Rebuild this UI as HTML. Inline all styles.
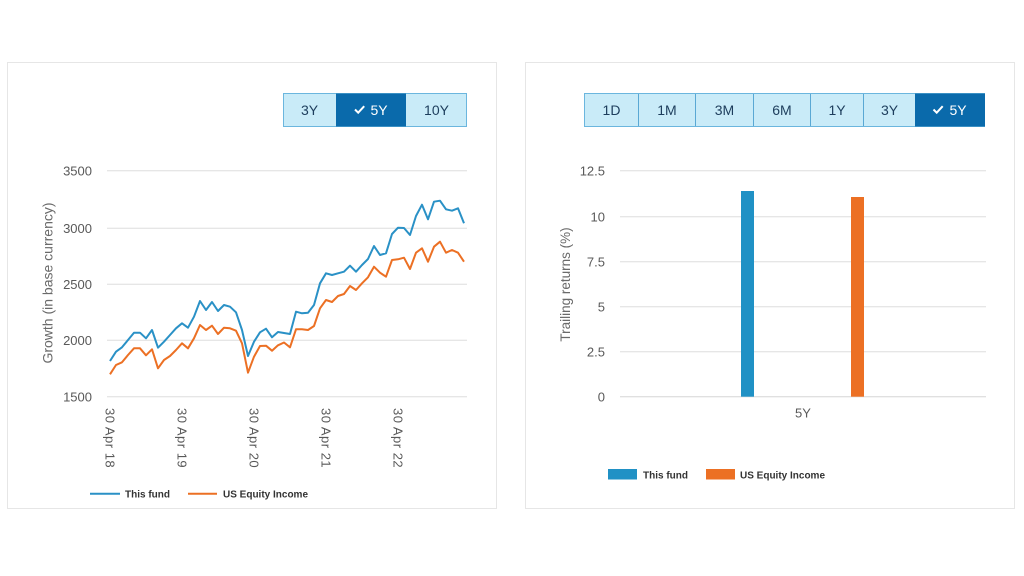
<!DOCTYPE html>
<html><head><meta charset="utf-8"><style>
html,body{margin:0;padding:0;background:#fff;}
svg{display:block;}
text{font-family:"Liberation Sans",sans-serif;}
</style></head><body>
<svg width="1024" height="576" viewBox="0 0 1024 576" xmlns="http://www.w3.org/2000/svg">
<rect width="1024" height="576" fill="#fff"/>
<!-- panels -->
<rect x="7.5" y="62.5" width="489" height="446" fill="#fff" stroke="#e6e6e6" stroke-width="1"/>
<rect x="525.5" y="62.5" width="489" height="446" fill="#fff" stroke="#e6e6e6" stroke-width="1"/>

<!-- left buttons -->
<g font-size="14" text-anchor="middle">
<rect x="283.5" y="93.5" width="183" height="33" fill="#c9ebf8" stroke="#6bb6de"/>
<rect x="336" y="93.5" width="70" height="33" fill="#0a6aab"/>
<text x="309.5" y="115" fill="#1d3d5c">3Y</text>
<text x="379" y="115" fill="#fff">5Y</text>
<path d="M355 109.5 l3.2 3.2 l6 -6.5" fill="none" stroke="#fff" stroke-width="2"/>
<text x="436.5" y="115" fill="#1d3d5c">10Y</text>
</g>

<!-- right buttons -->
<g font-size="14" text-anchor="middle">
<rect x="584.5" y="93.5" width="400" height="33" fill="#c9ebf8" stroke="#6bb6de"/>
<g stroke="#5aa8d4" stroke-width="1">
<line x1="638.5" y1="94" x2="638.5" y2="126"/>
<line x1="695.5" y1="94" x2="695.5" y2="126"/>
<line x1="753.5" y1="94" x2="753.5" y2="126"/>
<line x1="810.5" y1="94" x2="810.5" y2="126"/>
<line x1="863.5" y1="94" x2="863.5" y2="126"/>
</g>
<rect x="915" y="93.5" width="70" height="33" fill="#0a6aab"/>
<text x="611.5" y="115" fill="#1d3d5c">1D</text>
<text x="667" y="115" fill="#1d3d5c">1M</text>
<text x="724.5" y="115" fill="#1d3d5c">3M</text>
<text x="782" y="115" fill="#1d3d5c">6M</text>
<text x="837" y="115" fill="#1d3d5c">1Y</text>
<text x="889.5" y="115" fill="#1d3d5c">3Y</text>
<text x="958" y="115" fill="#fff">5Y</text>
<path d="M933.5 109.5 l3.2 3.2 l6 -6.5" fill="none" stroke="#fff" stroke-width="2"/>
</g>

<!-- left chart grid -->
<g stroke="#e6e6e6" stroke-width="1.3">
<line x1="107" y1="170.7" x2="467" y2="170.7"/>
<line x1="107" y1="228.3" x2="467" y2="228.3"/>
<line x1="107" y1="284.3" x2="467" y2="284.3"/>
<line x1="107" y1="340.3" x2="467" y2="340.3"/>
<line x1="107" y1="396.7" x2="467" y2="396.7"/>
</g>
<g font-size="13" fill="#595959" text-anchor="end">
<text x="92" y="175.5">3500</text>
<text x="92" y="233">3000</text>
<text x="92" y="289">2500</text>
<text x="92" y="345">2000</text>
<text x="92" y="401.5">1500</text>
</g>
<text transform="translate(52.5,283) rotate(-90)" font-size="14" fill="#6a6a6a" text-anchor="middle">Growth (in base currency)</text>
<g font-size="13" fill="#595959" letter-spacing="0.5">
<text transform="translate(105.5,408) rotate(90)">30 Apr 18</text>
<text transform="translate(177.5,408) rotate(90)">30 Apr 19</text>
<text transform="translate(249.5,408) rotate(90)">30 Apr 20</text>
<text transform="translate(321.5,408) rotate(90)">30 Apr 21</text>
<text transform="translate(393.5,408) rotate(90)">30 Apr 22</text>
</g>

<!-- lines -->
<polyline fill="none" stroke="#ec7024" stroke-width="2" stroke-linejoin="round" points="110,374.3 116,365 122,362.3 128,355 134,348.3 140,348.3 146,355.3 152,349.3 158,368.3 164,360 170,356 176,350 182,343.3 188,348.3 194,338.3 200,325 206,330 212,325.7 218,334 224,327.7 230,328.3 236,330.7 242,343.3 248,372.7 254,356.7 260,346 266,345.7 272,350.7 278,345.3 284,342.5 290,347.3 296,329.3 302,329.3 308,330 314,326 320,308.3 326,300 332,302 338,296 344,294 350,286 356,290 362,283.3 368,277.3 374,266.7 380,272.7 386,276.7 392,260 398,259.3 404,257.7 410,269 416,252.7 422,248.3 428,261.7 434,246.7 440,241.7 446,252.7 452,250 458,252.7 464,261.7"/>
<polyline fill="none" stroke="#2a91c6" stroke-width="2" stroke-linejoin="round" points="110,361 116,351.7 122,347.3 128,340 134,332.7 140,332.7 146,338.3 152,330 158,347.7 164,341.7 170,335 176,328.3 182,323.3 188,327.7 194,316.7 200,301 206,310 212,302 218,311 224,305 230,306.7 236,312.3 242,330 248,356 254,341.7 260,332.3 266,328.7 272,337.3 278,332 284,333 290,334 296,311.7 302,313.3 308,312.7 314,305 320,283.3 326,273.3 332,275 338,273.3 344,271.7 350,265.7 356,271.7 362,265 368,259 374,246 380,255 386,253.3 392,234 398,227.7 404,228 410,235 416,216 422,204.7 428,219.3 434,201.7 440,200.7 446,209.3 452,210.7 458,208.3 464,223.3"/>

<!-- left legend -->
<line x1="90" y1="493.7" x2="120" y2="493.7" stroke="#2a91c6" stroke-width="2"/>
<line x1="188" y1="493.7" x2="217" y2="493.7" stroke="#ec7024" stroke-width="2"/>
<g font-size="10" font-weight="bold" fill="#333">
<text x="125" y="497.5">This fund</text>
<text x="223" y="497.5">US Equity Income</text>
</g>

<!-- right chart grid -->
<g stroke="#e6e6e6" stroke-width="1.3">
<line x1="620" y1="170.7" x2="986" y2="170.7"/>
<line x1="620" y1="216.7" x2="986" y2="216.7"/>
<line x1="620" y1="261.7" x2="986" y2="261.7"/>
<line x1="620" y1="306.7" x2="986" y2="306.7"/>
<line x1="620" y1="351.7" x2="986" y2="351.7"/>
<line x1="620" y1="396.7" x2="986" y2="396.7" stroke="#e0e0e0"/>
</g>
<g font-size="13" fill="#595959" text-anchor="end">
<text x="605" y="175.5">12.5</text>
<text x="605" y="221.5">10</text>
<text x="605" y="266.5">7.5</text>
<text x="605" y="311.5">5</text>
<text x="605" y="356.5">2.5</text>
<text x="605" y="401.5">0</text>
</g>
<text transform="translate(570,284.5) rotate(-90)" font-size="13.5" fill="#6a6a6a" text-anchor="middle">Trailing returns (%)</text>
<rect x="741" y="191" width="13" height="205.7" fill="#2091c5"/>
<rect x="851" y="197" width="13" height="199.7" fill="#ec7024"/>
<text x="803" y="417.5" font-size="13" fill="#595959" text-anchor="middle">5Y</text>

<!-- right legend -->
<rect x="608" y="469" width="29" height="10.5" fill="#2091c5"/>
<rect x="706" y="469" width="29" height="10.5" fill="#ec7024"/>
<g font-size="10" font-weight="bold" fill="#333">
<text x="643" y="478.5">This fund</text>
<text x="740" y="478.5">US Equity Income</text>
</g>
</svg>
</body></html>
